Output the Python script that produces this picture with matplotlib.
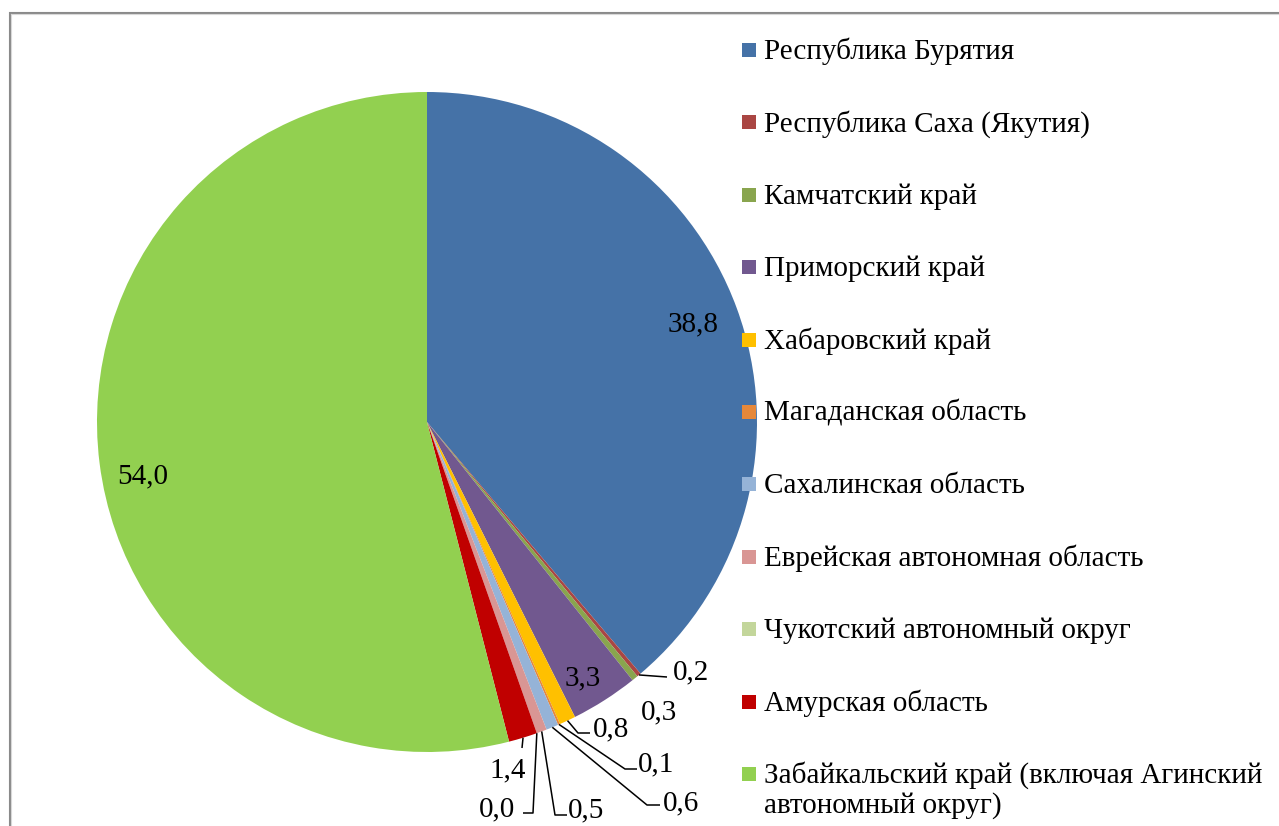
import matplotlib
matplotlib.use("Agg")
import matplotlib.pyplot as plt
import numpy as np

plt.rcParams['font.family'] = ['Liberation Serif', 'DejaVu Serif']

regions = [
    "Республика Бурятия",
    "Республика Саха (Якутия)",
    "Камчатский край",
    "Приморский край",
    "Хабаровский край",
    "Магаданская область",
    "Сахалинская область",
    "Еврейская автономная область",
    "Чукотский автономный округ",
    "Амурская область",
    "Забайкальский край (включая Агинский\nавтономный округ)",
]
shares = [38.8, 0.2, 0.3, 3.3, 0.8, 0.1, 0.6, 0.5, 0.0, 1.4, 54.0]
value_labels = ["38,8", "0,2", "0,3", "3,3", "0,8", "0,1", "0,6", "0,5", "0,0", "1,4", "54,0"]
colors = ["#4572A7", "#AA4643", "#89A54E", "#71588F", "#FFC000", "#E6883A",
          "#95B3D7", "#D99694", "#C3D69B", "#C00000", "#92D050"]

W, H = 1279, 826
fig = plt.figure(figsize=(W / 100, H / 100), dpi=100)
ax = fig.add_axes([0, 0, 1, 1])


def px(x, y):
    """Convert top-left pixel coordinates to axes data coordinates."""
    return x, H - y


cx, cy = px(427, 422)
R = 330
ax.pie(shares, colors=colors, startangle=90, counterclock=False,
       center=(cx, cy), radius=R, wedgeprops=dict(linewidth=0))
ax.set_xlim(0, W)
ax.set_ylim(0, H)
ax.set_aspect('auto')
ax.axis('off')

# edge point at the middle angle of every slice
cum = np.concatenate([[0], np.cumsum(shares)[:-1]])
mid = 90 - 360 * (cum + np.array(shares) / 2) / 100.0
edge = [(cx + R * np.cos(np.radians(a)), cy + R * np.sin(np.radians(a))) for a in mid]

FS = 21
# label text anchors (center x, baseline y) and leader elbows, in pixel coords
label_pos = {
    0: (693, 331), 1: (691, 679), 2: (659, 719), 3: (583, 685),
    4: (611, 736), 5: (656, 771), 6: (681, 810), 7: (586, 817),
    8: (497, 816), 9: (508, 777), 10: (143, 483),
}
leaders = {
    1: [(667, 677)],
    4: [(578, 733), (590, 733)],
    5: [(625, 769), (637, 769)],
    6: [(647, 805), (660, 805)],
    7: [(555, 815), (567, 815)],
    8: [(533, 813), (523, 813)],
    9: [(522, 748)],
}
for i, pts in leaders.items():
    xs = [edge[i][0]] + [px(*p)[0] for p in pts]
    ys = [edge[i][1]] + [px(*p)[1] for p in pts]
    ax.plot(xs, ys, color="black", lw=1.1, solid_capstyle='butt', zorder=3)

for i, (x, y) in label_pos.items():
    tx, ty = px(x, y)
    ax.text(tx, ty, value_labels[i], fontsize=FS, ha='center', va='baseline',
            color='black', zorder=4)

# legend
leg_x, leg_base0, leg_step, line_gap = 742, 59, 72.4, 30
for i, (name, col) in enumerate(zip(regions, colors)):
    base = leg_base0 + i * leg_step
    sx, sy = px(leg_x, base - 2)
    ax.add_patch(plt.Rectangle((sx, sy), 14, 14, facecolor=col, edgecolor='none'))
    for k, line in enumerate(name.split("\n")):
        tx, ty = px(764, base + k * line_gap)
        ax.text(tx, ty, line, fontsize=FS, ha='left', va='baseline', color='black')

# chart frame
ax.plot([9.5, 9.5, W], [0, H - 12.5, H - 12.5], color="#8a8a8a", lw=1.5,
        solid_joinstyle='miter')
ax.plot([11, 11], [0, H - 14], color="#d8d8d8", lw=0.8)
ax.plot([11, W], [H - 14, H - 14], color="#d8d8d8", lw=0.8)

fig.savefig("out.png", dpi=100)
